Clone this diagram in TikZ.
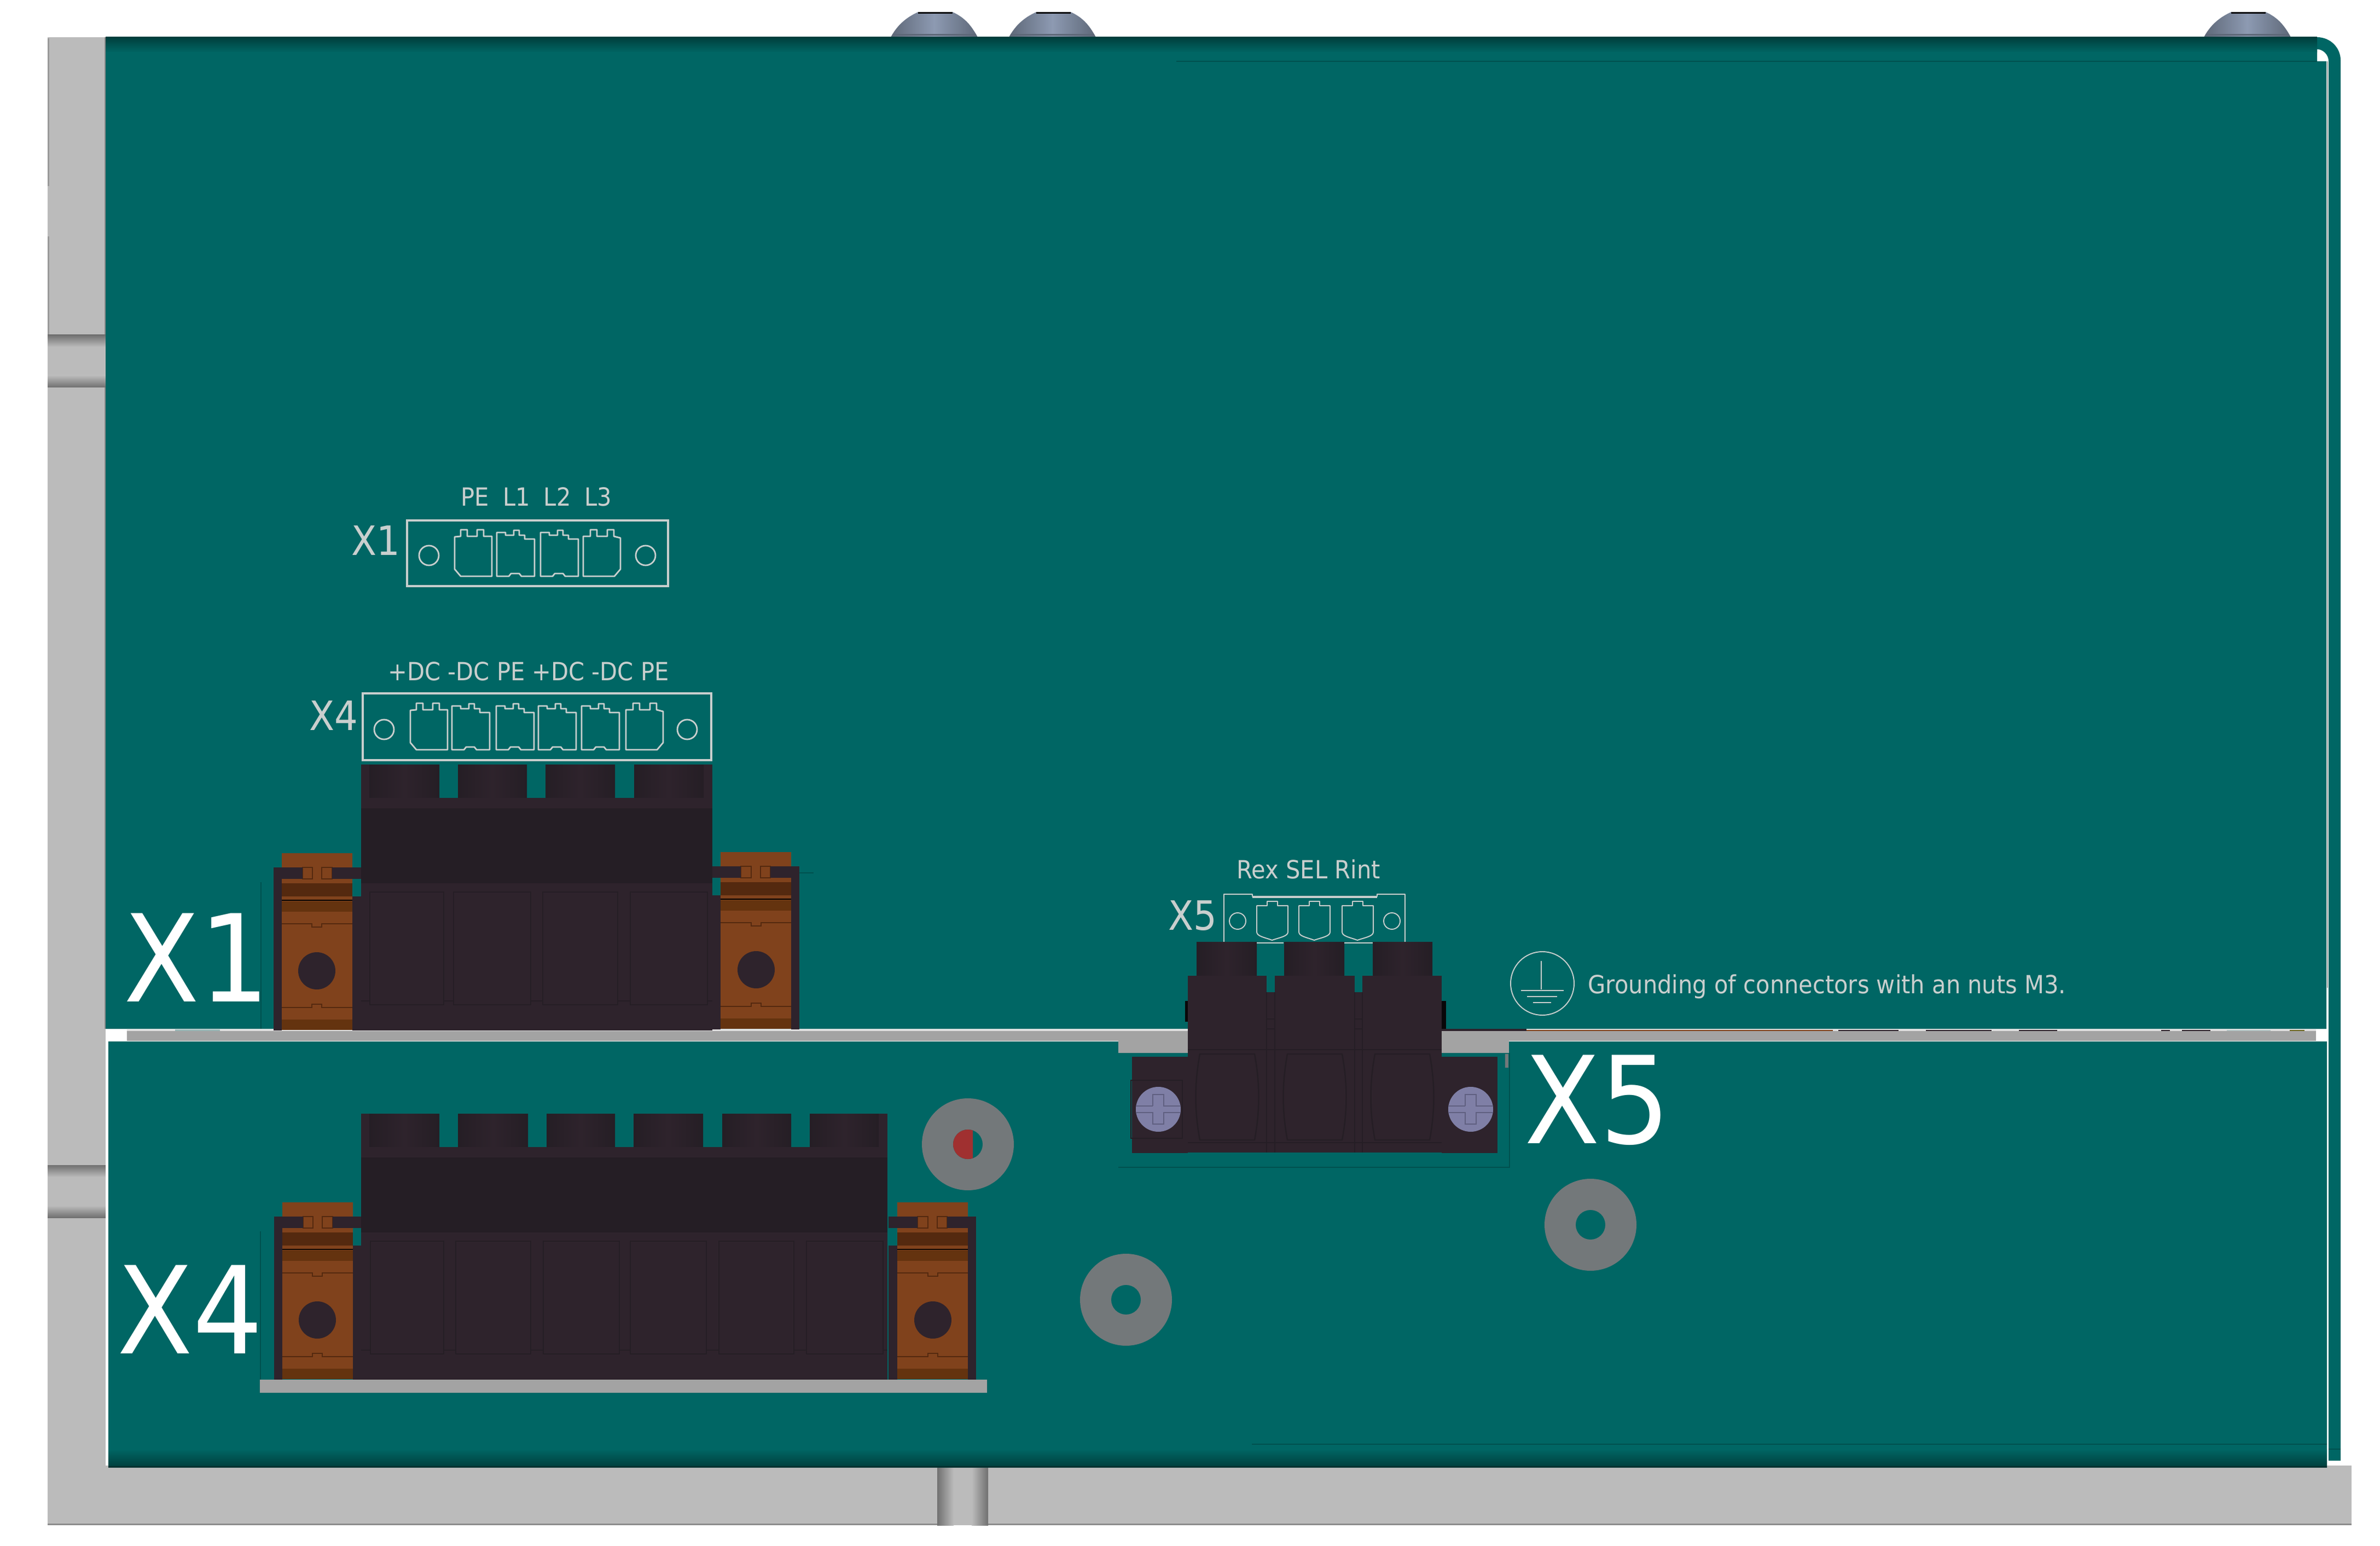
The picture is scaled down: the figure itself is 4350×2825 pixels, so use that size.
\documentclass[tikz,border=0pt]{standalone}
\usepackage{fontspec}
\usepackage{tikz}
\newfontfamily\panelfont[FakeStretch=0.91]{DejaVu Sans}
\definecolor{boardteal}{HTML}{006664}
\definecolor{boarddark}{HTML}{003E3C}
\definecolor{caseline}{HTML}{00504E}
\definecolor{casegrey}{HTML}{BBBBBB}
\definecolor{postdark}{HTML}{707070}
\definecolor{bargrey}{HTML}{A3A3A3}
\definecolor{washer}{HTML}{73787A}
\definecolor{holered}{HTML}{A03030}
\definecolor{plug}{HTML}{2E232C}
\definecolor{plugmid}{HTML}{251E25}
\definecolor{copper}{HTML}{80421C}
\definecolor{copperdeep}{HTML}{54290F}
\definecolor{copperband}{HTML}{64330F}
\definecolor{screwface}{HTML}{7F7FA6}
\definecolor{screwline}{HTML}{5F5F80}
\definecolor{boltgrey}{HTML}{8D9AB2}
\definecolor{boltdark}{HTML}{5E6878}
\definecolor{printline}{HTML}{C9CFCE}
\tikzset{
	pinline/.style={draw=printline,line width=0.8pt,line join=round},
	thinpin/.style={draw=printline,line width=0.55pt,line join=round},
	printbox/.style={draw=printline,line width=1pt},
	cellline/.style={draw=plugmid,line width=0.7pt},
	biglabel/.style={text=white,inner sep=0,anchor=base west,font=\panelfont\fontsize{63}{70}\selectfont},
	midlabel/.style={text=printline,inner sep=0,anchor=base west,font=\panelfont\fontsize{21}{24}\selectfont},
	pinlabel/.style={text=printline,inner sep=0,anchor=base west,font=\panelfont\fontsize{13}{15}\selectfont}
}
\def\pinleft#1#2{\draw[pinline,shift={(#1,#2)}] (0,13) -- (11,12) -- (11,0) -- (23,0) -- (23,12) -- (41,12) -- (41,0) -- (53,0) -- (53,12) -- (68,12) -- (68,85) -- (11,85) -- (0,72) -- cycle;}
\def\pinmid#1#2{\draw[pinline,shift={(#1,#2)}] (0,5) -- (16,5) -- (16,10) -- (31,10) -- (31,1) -- (41,1) -- (41,10) -- (51,10) -- (51,17) -- (69,17) -- (69,85) -- (45,85) -- (41,80) -- (26,80) -- (22,85) -- (0,85) -- cycle;}
\def\pinright#1#2{\draw[pinline,shift={(#1,#2)}] (0,12) -- (13,12) -- (13,0) -- (25,0) -- (25,12) -- (44,12) -- (44,0) -- (56,0) -- (56,12) -- (68,15) -- (68,72) -- (57,85) -- (0,85) -- cycle;}
\def\pinround#1#2{\draw[thinpin,shift={(#1,#2)}] (0,8) -- (19,8) -- (19,0) -- (38,0) -- (38,8) -- (57,8) -- (57,56) .. controls (57,64) and (42,66) .. (28,71) .. controls (15,66) and (0,64) .. (0,56) -- cycle;}
\def\bolthead#1{\begin{scope}[shift={(#1,0)}]
	\shade[left color=boltdark,right color=boltdark,middle color=boltgrey] (0,68) .. controls (12,46) and (28,32) .. (50,22) -- (113,22) .. controls (135,32) and (147,46) .. (159,68) -- cycle;
	\fill[black] (50,22) rectangle (113,25);
	\fill[boltdark] (3,62) rectangle (156,65);
\end{scope}}
\def\washerring#1#2{\fill[washer] (#1,#2) circle (84); \fill[boardteal] (#1,#2) circle (27);}
\def\sidepost#1#2{\fill[casegrey] (87,#1) rectangle (193,#2);
	\shade[top color=postdark,bottom color=casegrey] (87,#1) rectangle (193,#1+22);
	\shade[top color=casegrey,bottom color=postdark] (87,#2-22) rectangle (193,#2);}
\def\copperclamp#1{\begin{scope}[#1]
	\fill[copper] (15,0) rectangle (144,323);
	\fill[copperdeep] (15,55) rectangle (144,79);
	\fill[black] (15,85) rectangle (144,87);
	\fill[copperband] (15,88) rectangle (144,107);
	\fill[copperband] (15,304) rectangle (144,323);
	\draw[copperdeep,line width=0.4pt] (15,129) -- (70,129) -- (70,135) -- (88,135) -- (88,129) -- (144,129);
	\draw[copperdeep,line width=0.4pt] (15,282) -- (70,282) -- (70,276) -- (88,276) -- (88,282) -- (144,282);
	\draw[copperdeep,line width=0.4pt] (53,26) rectangle (71,47);
	\draw[copperdeep,line width=0.4pt] (88,26) rectangle (107,47);
	\fill[plug] (0,26) rectangle (15,324);
	\fill[plug] (144,79) rectangle (160,324);
	\fill[plug] (0,26) rectangle (53,47);
	\fill[plug] (107,26) rectangle (160,47);
	\fill[plug] (79,215) circle (34);
\end{scope}}
\def\plugbody#1#2#3#4{\begin{scope}[shift={(0,#1)}]
	\fill[plug] (660,1397) rectangle (675,1458);
	\fill[plug] (#2-16,1397) rectangle (#2,1458);
	\foreach \xa/\xb in {#3} {
		\shade[left color=plugmid,right color=plugmid,middle color=plug] (\xa,1397) rectangle (\xb,1458);
	}
	\fill[plug] (660,1458) rectangle (#2,1477);
	\fill[plugmid] (660,1477) rectangle (#2,1614);
	\fill[plug] (660,1614) rectangle (#2,1883);
	\draw[cellline] (660,1829) -- (#2,1829);
	\foreach \xa/\xb in {#4} {
		\draw[cellline,fill=plug] (\xa,1630) rectangle (\xb,1836);
	}
\end{scope}}
\def\screwhead#1#2{\begin{scope}[shift={(#1,#2)}]
	\fill[screwface] (0,0) circle (41);
	\draw[screwline,line width=0.5pt] (-10,-6) -- (-10,-27) -- (10,-27) -- (10,-6) -- (41,-6);
	\draw[screwline,line width=0.5pt] (-41,-6) -- (-10,-6);
	\draw[screwline,line width=0.5pt] (-41,6) -- (-10,6) -- (-10,27) -- (10,27) -- (10,6) -- (41,6);
\end{scope}}

\begin{document}
\begin{tikzpicture}[x=0.01cm,y=-0.01cm]
	\useasboundingbox (0,0) rectangle (4350,2825);
	%%%%% CASE %%%%%
	\bolthead{1628}
	\bolthead{1844}
	\bolthead{4028}
	\fill[casegrey] (87,68) rectangle (193,2681);
	\fill[casegrey] (87,2678) rectangle (4298,2787);
	\fill[black!45] (87,2784) rectangle (4298,2787);
	\fill[black!40] (87,70) rectangle (90,340);
	\fill[black!40] (87,432) rectangle (90,612);
	\fill[black!45] (191,68) rectangle (193,1880);
	\sidepost{612}{708}
	\sidepost{2129}{2225}
	\fill[casegrey] (1713,2681) rectangle (1806,2787);
	\shade[left color=postdark,right color=casegrey] (1713,2681) rectangle (1743,2787);
	\shade[left color=casegrey,right color=postdark] (1776,2681) rectangle (1806,2787);
	
	%%%%% BOARD %%%%%
	\fill[boardteal] (4235,68) .. controls (4260,68) and (4278,88) .. (4278,110) -- (4278,2669) -- (4256,2669) -- (4256,112) .. controls (4256,100) and (4246,90) .. (4235,90) -- cycle;
	\fill[boardteal] (193,68) -- (4235,68) -- (4235,112) -- (4252,112) -- (4252,1880) -- (193,1880) -- cycle;
	\fill[boardteal] (198,1903) rectangle (4253,2681);
	\shade[top color=boarddark,bottom color=boardteal] (193,68) rectangle (4235,96);
	\shade[top color=boardteal,bottom color=boarddark] (198,2648) rectangle (4253,2681);
	\fill[black!55!boardteal] (198,2679) rectangle (4253,2681);
	\draw[caseline,line width=0.5pt] (2150,112) -- (4235,112);
	\draw[caseline,line width=0.5pt] (2288,2639) -- (4253,2639);
	\draw[caseline,line width=0.5pt] (4256,2648) -- (4278,2648);
	\draw[black!35,line width=0.6pt] (4254,112) -- (4254,1805);
	
	%%%%% BAR %%%%%
	\fill[black!13] (232,1881) rectangle (4233,1884);
	\fill[boardteal!70!black!40] (320,1881) rectangle (402,1884);
	\fill[plug] (2635,1880) rectangle (2790,1884);
	\fill[copper] (2790,1882) rectangle (3350,1884);
	\foreach \xa/\xb in {3360/3470,3520/3640,3690/3760,3950/3966,3988/4040} {
		\fill[plug] (\xa,1882) rectangle (\xb,1884);
	}
	\fill[boardteal!60!black!30] (4070,1882) rectangle (4150,1884);
	\fill[olive!70!black] (4185,1882) rectangle (4212,1884);
	\fill[bargrey] (232,1884) rectangle (4233,1902);
	\fill[bargrey] (2044,1884) rectangle (2758,1924);
	\fill[bargrey] (475,2521) rectangle (1804,2545);
	\draw[caseline,line width=0.5pt] (477,1612) -- (477,1880);
	\draw[caseline,line width=0.5pt] (476,2250) -- (476,2521);
	\draw[caseline,line width=0.5pt] (1461,1595) -- (1487,1595);
	\draw[caseline,line width=0.5pt] (2044,2133) -- (2759,2133) -- (2759,1924);
	\fill[washer] (2751,1926) rectangle (2757,1951);
	
	%%%%% CONNECTOR X1 %%%%%
	\copperclamp{shift={(500,1559)}}
	\copperclamp{shift={(1461,1557)},xscale=-1}
	\plugbody{0}{1302}{675/803,837/963,997/1124,1159/1286}{676/811,829/970,992/1129,1152/1293}
	
	%%%%% CONNECTOR X4 %%%%%
	\copperclamp{shift={(501,2197)}}
	\copperclamp{shift={(1784,2197)},xscale=-1}
	\plugbody{638}{1622}{675/803,837/965,999/1124,1158/1285,1320/1446,1480/1606}{677/811,833/970,993/1132,1152/1291,1314/1451,1474/1614}
	
	%%%%% CONNECTOR X5 %%%%%
	\fill[plug] (2069,1931) rectangle (2171,2107);
	\fill[plug] (2635,1931) rectangle (2737,2107);
	\draw[cellline] (2067,1974) rectangle (2161,2080);
	\fill[black!80!plug] (2166,1829) rectangle (2171,1867);
	\fill[black!80!plug] (2635,1829) rectangle (2643,1880);
	\foreach \xa/\xb in {2187/2297,2347/2457,2509/2618} {
		\shade[left color=plugmid,right color=plugmid,middle color=plug] (\xa,1721) rectangle (\xb,1783);
	}
	\fill[plug] (2171,1813) rectangle (2635,2106);
	\fill[plug] (2171,1783) rectangle (2315,1813);
	\fill[plug] (2330,1783) rectangle (2476,1813);
	\fill[plug] (2490,1783) rectangle (2635,1813);
	\draw[cellline] (2171,1918) -- (2635,1918);
	\draw[cellline] (2171,2088) -- (2635,2088);
	\foreach \xa/\xb in {2315/2330,2476/2490} {
		\draw[cellline] (\xa,1813) -- (\xa,2106);
		\draw[cellline] (\xb,1813) -- (\xb,2106);
		\draw[cellline] (\xa,1862) -- (\xb,1862);
		\draw[cellline] (\xa,1880) -- (\xb,1880);
	}
	\foreach \xc in {2243,2403,2563} {
		\draw[cellline] (\xc-50,1926) .. controls (\xc-60,1980) and (\xc-60,2030) .. (\xc-50,2083) -- (\xc+50,2083) .. controls (\xc+60,2030) and (\xc+60,1980) .. (\xc+50,1926) -- cycle;
	}
	\screwhead{2117}{2027}
	\screwhead{2688}{2027}
	
	%%%%% WASHERS %%%%%
	\washerring{1769}{2091}
	\begin{scope}
		\clip (1742,2064) rectangle (1778,2118);
		\fill[holered] (1769,2091) circle (27);
	\end{scope}
	\washerring{2058}{2375}
	\washerring{2907}{2238}
	
	%%%%% PRINT X1 %%%%%
	\draw[printbox] (744,951) rectangle (1221,1071);
	\draw[pinline] (784,1015) circle (18);
	\draw[pinline] (1180,1015) circle (18);
	\pinleft{831}{968}
	\pinmid{908}{968}
	\pinmid{988}{968}
	\pinright{1066}{968}
	\node[midlabel] (labelxone) at (642,1015) {X1};
	\node[pinlabel] (pinsxone) at (842,925) {PE\hspace{0.55em}L1\hspace{0.55em}L2\hspace{0.55em}L3};
	
	%%%%% PRINT X4 %%%%%
	\draw[printbox,line width=1.4pt] (663,1267) rectangle (1300,1389);
	\draw[pinline] (702,1333) circle (18);
	\draw[pinline] (1256,1333) circle (18);
	\pinleft{750}{1285}
	\foreach \xp in {826,907,984,1063} {
		\pinmid{\xp}{1285}
	}
	\pinright{1144}{1285}
	\node[midlabel] (labelxfour) at (565,1334) {X4};
	\node[pinlabel] (pinsxfour) at (709,1244) {+DC -DC PE +DC -DC PE};
	
	%%%%% PRINT X5 %%%%%
	\draw[thinpin] (2237,1721) -- (2237,1634) -- (2289,1634) -- (2289,1638) -- (2517,1638) -- (2517,1634) -- (2568,1634) -- (2568,1721);
	\draw[printline,line width=1.2pt] (2289,1639) -- (2517,1639);
	\draw[thinpin] (2262,1683) circle (15);
	\draw[thinpin] (2544,1683) circle (15);
	\pinround{2297}{1647}
	\pinround{2374}{1647}
	\pinround{2453}{1647}
	\draw[printline,line width=0.8pt] (2297,1723) -- (2346,1723);
	\draw[printline,line width=0.8pt] (2457,1723) -- (2509,1723);
	\node[midlabel] (labelxfive) at (2135,1699) {X5};
	\node[pinlabel] (pinsxfive) at (2260,1605) {Rex SEL Rint};
	
	%%%%% GROUND %%%%%
	\draw[thinpin] (2819,1797) circle (58);
	\draw[thinpin] (2817,1756) -- (2817,1808);
	\draw[thinpin] (2780,1810) -- (2858,1810);
	\draw[thinpin] (2791,1821) -- (2846,1821);
	\draw[thinpin] (2802,1832) -- (2835,1832);
	\node[pinlabel] (groundnote) at (2902,1815) {Grounding of connectors with an nuts M3.};
	
	%%%%% BIG LABELS %%%%%
	\node[biglabel] (bigxone) at (226,1830) {X1};
	\node[biglabel] (bigxfour) at (214,2473) {X4};
	\node[biglabel] (bigxfive) at (2786,2089) {X5};
\end{tikzpicture}
\end{document}
